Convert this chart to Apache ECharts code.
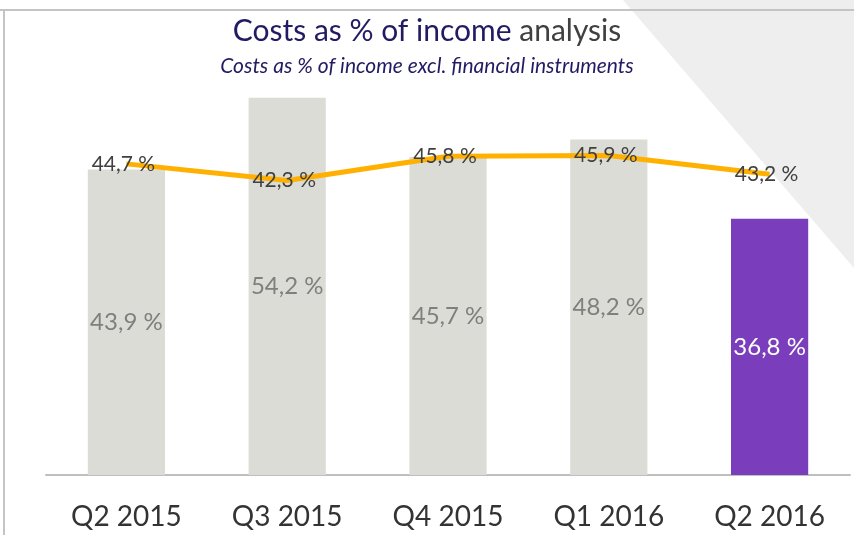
<!DOCTYPE html>
<html>
<head>
<meta charset="utf-8">
<script src="https://cdn.jsdelivr.net/npm/echarts@6/dist/echarts.min.js"></script>
<style>
  * { margin: 0; padding: 0; }
  html, body { width: 854px; height: 535px; background: #fff; overflow: hidden; }
  #chart { width: 854px; height: 535px; }
</style>
</head>
<body>
<div id="chart"></div>
<script>
// quarters on the x axis
var quarters = ["Q2 2015", "Q3 2015", "Q4 2015", "Q1 2016", "Q2 2016"];
// bars: costs as % of income
var costIncome = [43.9, 54.2, 45.7, 48.2, 36.8];
// line: costs as % of income excl. financial instruments
var costIncomeExcl = [44.7, 42.3, 45.8, 45.9, 43.2];

function pct(v) {
  return v.toFixed(1).replace(".", ",") + " %";
}

var FONT = "Lato, 'Open Sans', sans-serif";
var myChart = echarts.init(document.getElementById("chart"));

var option = {
  backgroundColor: "#fff",
  animation: false,
  // background decoration (grey corner + frame lines)
  graphic: [
    {
      type: "polygon",
      z: -10,
      shape: { points: [[623, 0], [854, 0], [854, 268]] },
      style: { fill: "#eeeeee" }
    },
    {
      type: "line",
      z: -5,
      shape: { x1: 0, y1: 10, x2: 854, y2: 10 },
      style: { stroke: "#c4c4c4", lineWidth: 2 }
    },
    {
      type: "line",
      z: -5,
      shape: { x1: 4, y1: 10, x2: 4, y2: 535 },
      style: { stroke: "#c4c4c4", lineWidth: 2 }
    }
  ],
  title: {
    text: "{a|Costs as % of income }{b|analysis}",
    subtext: "Costs as % of income excl. financial instruments",
    left: "center",
    top: 11,
    itemGap: 10,
    textStyle: {
      fontFamily: FONT,
      fontWeight: "normal",
      rich: {
        a: { fontFamily: FONT, fontWeight: "normal", fontSize: 30, color: "#221b63" },
        b: { fontFamily: FONT, fontWeight: "normal", fontSize: 30, color: "#404040" }
      }
    },
    subtextStyle: {
      fontFamily: FONT,
      fontSize: 21,
      fontStyle: "italic",
      color: "#221b63"
    }
  },
  grid: {
    left: 46,
    right: 4,
    top: 57.4,
    bottom: 60
  },
  xAxis: {
    type: "category",
    data: quarters,
    axisTick: { show: false },
    axisLine: { lineStyle: { color: "#bfbfbf", width: 2 } },
    axisLabel: {
      margin: 28,
      fontFamily: FONT,
      fontSize: 28,
      color: "#333333"
    }
  },
  yAxis: {
    type: "value",
    min: 0,
    max: 60,
    show: false,
    splitLine: { show: false }
  },
  series: [
    {
      name: "Costs as % of income",
      type: "bar",
      barWidth: "48%",
      data: costIncome.map(function (v, i) {
        var last = i === costIncome.length - 1;
        return {
          value: v,
          itemStyle: { color: last ? "#7a3dbb" : "#dcdcd7" },
          label: { color: last ? "#ffffff" : "#7f7f7f" }
        };
      }),
      label: {
        show: true,
        position: "inside",
        fontFamily: FONT,
        fontSize: 24,
        formatter: function (p) { return pct(p.value); }
      }
    },
    {
      name: "Costs as % of income excl. financial instruments",
      type: "line",
      data: costIncomeExcl,
      symbol: "circle",
      symbolSize: 0,
      showSymbol: true,
      lineStyle: { color: "#ffb000", width: 5 },
      itemStyle: { color: "#ffb000" },
      z: 5,
      label: {
        show: true,
        position: "inside",
        offset: [-3, 0],
        fontFamily: FONT,
        fontSize: 21,
        color: "#404040",
        formatter: function (p) { return pct(p.value); }
      }
    }
  ]
};

myChart.setOption(option);
window.onresize = myChart.resize;
</script>
</body>
</html>
